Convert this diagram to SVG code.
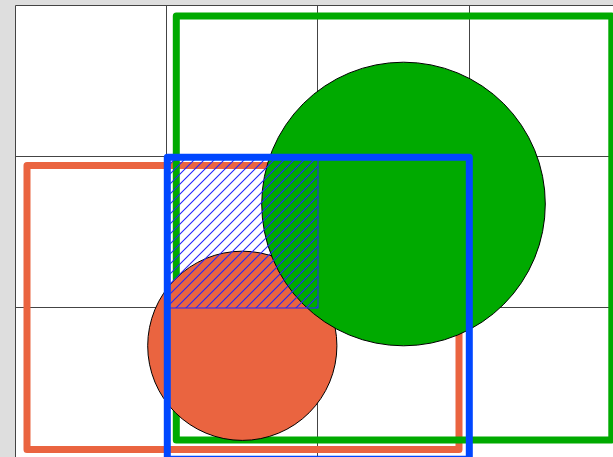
<svg xmlns="http://www.w3.org/2000/svg" width="613" height="457" viewBox="0 0 613 457">
  <style>
    .grid { stroke: #444444; stroke-width: 1; fill: none; }
    .frame { fill: none; stroke-width: 7; stroke-linejoin: round; }
    .circ { stroke: #000000; stroke-width: 1; }
    .hatch { stroke: #2424ff; stroke-width: 1.1; fill: none; }
  </style>
  <defs>
    <clipPath id="hclip">
      <rect x="166.5" y="156.5" width="151.5" height="151.5"/>
    </clipPath>
  </defs>
  <rect x="0" y="0" width="613" height="457" fill="#dedede"/>
  <rect x="15.5" y="5.5" width="600" height="460" fill="#ffffff"/>
  <g id="grid">
    <path class="grid" d="M15.5,5.5 H613 M15.5,156.5 H613 M15.5,307.5 H613 M15.5,5.5 V457 M166.5,5.5 V457 M317.5,5.5 V457 M469.5,5.5 V457"/>
  </g>
  <g id="orange-rect">
    <rect class="frame" x="27" y="165.5" width="432" height="284" stroke="#ea6440"/>
  </g>
  <g id="green-rect">
    <rect class="frame" x="176.3" y="16" width="435.5" height="424" stroke="#00aa00"/>
  </g>
  <g id="orange-circle">
    <circle class="circ" cx="242.3" cy="345.8" r="94.6" fill="#ea6440"/>
  </g>
  <g id="green-circle">
    <circle class="circ" cx="403.5" cy="204" r="141.8" fill="#00aa00"/>
  </g>
  <g id="hatch-square">
    <g clip-path="url(#hclip)">
      <path class="hatch" d="M156,168 L176,148 M156,178 L186,148 M156,188 L196,148 M156,198 L206,148 M156,208 L216,148 M156,218 L226,148 M156,228 L236,148 M156,238 L246,148 M156,248 L256,148 M156,258 L266,148 M156,268 L276,148 M156,278 L286,148 M156,288 L296,148 M156,298 L306,148 M156,308 L316,148 M156,318 L326,148 M166,318 L336,148 M176,318 L336,158 M186,318 L336,168 M196,318 L336,178 M206,318 L336,188 M216,318 L336,198 M226,318 L336,208 M236,318 L336,218 M246,318 L336,228 M256,318 L336,238 M266,318 L336,248 M276,318 L336,258 M286,318 L336,268 M296,318 L336,278 M306,318 L336,288 M316,318 L336,298"/>
    </g>
    <rect x="166.5" y="156.5" width="151.5" height="151.5" fill="none" stroke="#2424ff" stroke-width="1"/>
  </g>
  <g id="blue-rect">
    <rect class="frame" x="167.3" y="157.3" width="302" height="302" stroke="#0047ff"/>
  </g>
</svg>
